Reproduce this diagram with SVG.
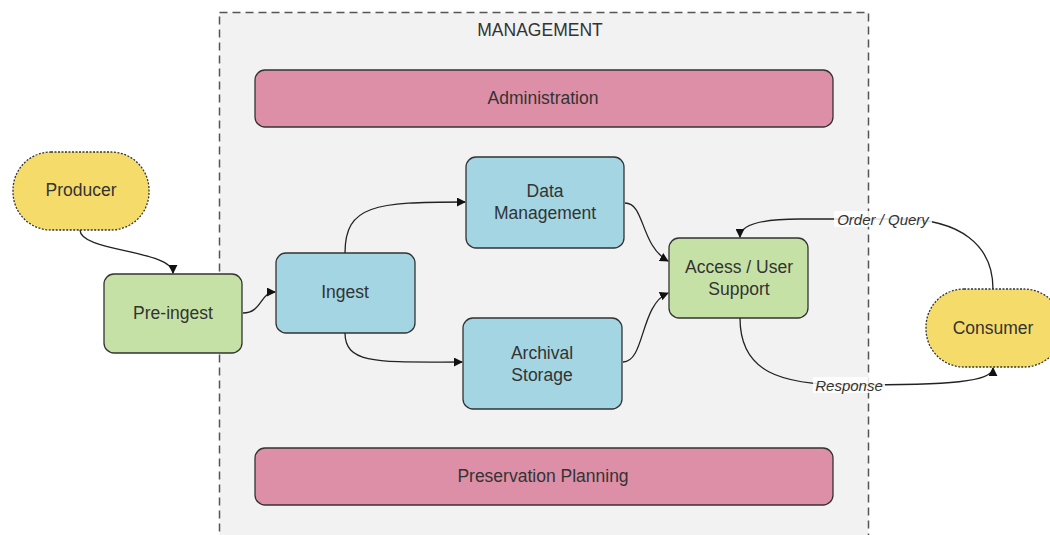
<svg xmlns="http://www.w3.org/2000/svg" width="1050" height="535" viewBox="0 0 1050 535">
<defs>
<marker id="arr" viewBox="0 0 10 10" refX="9" refY="5" markerWidth="9" markerHeight="9" markerUnits="userSpaceOnUse" orient="auto">
<path d="M0,0 L10,5 L0,10 Z" fill="#111"/>
</marker>
<style>
text{font-family:"Liberation Sans",Arial,sans-serif;font-size:17.5px;fill:#333;text-anchor:middle;dominant-baseline:central}
.node{stroke:#333;stroke-width:1.3}
.blue{fill:#a3d5e3}.green{fill:#c6e1a6}.pink{fill:#dd8fa7}.yellow{fill:#f5dc6a;stroke-dasharray:2 1.5}
.edge{fill:none;stroke:#222;stroke-width:1.3;marker-end:url(#arr)}
.lbl{font-style:italic;font-size:15px}
</style>
</defs>
<rect width="1050" height="535" fill="#fff"/>
<g id="management">
<rect x="219.5" y="12.5" width="649" height="540" fill="#f2f2f2" stroke="#555" stroke-width="1.5" stroke-dasharray="8 5"/>
<text x="540" y="30">MANAGEMENT</text>
</g>
<g id="administration"><rect class="node pink" x="255" y="70" width="578" height="57" rx="10"/><text x="543" y="98">Administration</text></g>
<g id="preservation"><rect class="node pink" x="255" y="448" width="578" height="57" rx="10"/><text x="543" y="476">Preservation Planning</text></g>
<g id="producer"><rect class="node yellow" x="13" y="152" width="136" height="78" rx="38"/><text x="81" y="190">Producer</text></g>
<g id="preingest"><rect class="node green" x="104" y="274" width="138" height="79" rx="10"/><text x="173" y="313">Pre-ingest</text></g>
<g id="ingest"><rect class="node blue" x="276" y="253" width="139" height="80" rx="10"/><text x="345" y="292">Ingest</text></g>
<g id="datamgmt"><rect class="node blue" x="466" y="157" width="158" height="91" rx="10"/><text x="545" y="191">Data</text><text x="545" y="213">Management</text></g>
<g id="archival"><rect class="node blue" x="463" y="318" width="159" height="91" rx="10"/><text x="542" y="353">Archival</text><text x="542" y="375">Storage</text></g>
<g id="access"><rect class="node green" x="669" y="238" width="139" height="80" rx="10"/><text x="739" y="267">Access / User</text><text x="739" y="289">Support</text></g>
<g id="consumer"><rect class="node yellow" x="926" y="289" width="136" height="78" rx="38"/><text x="993" y="328">Consumer</text></g>
<g id="connectors">
<path class="edge" d="M80,230 C80,252 173,250 173,273"/>
<path class="edge" d="M243,313 C262,313 260,292 275,292"/>
<path class="edge" d="M345,253 C345,205 375,202 465,202"/>
<path class="edge" d="M345,333 C345,365 380,362 462,362"/>
<path class="edge" d="M625,203 C645,203 640,245 668,261"/>
<path class="edge" d="M623,362 C645,362 640,305 668,293"/>
<path class="edge" d="M993,289 C993,245 960,219 900,219 L800,219 C760,219 740,225 740,237"/>
<path class="edge" d="M740,318 C740,372 780,385 850,385 C950,385 993,382 993,368"/>
<rect x="834" y="211" width="98" height="16" fill="#fff" opacity="0.85"/>
<text class="lbl" x="883" y="219">Order / Query</text>
<rect x="813" y="377" width="72" height="16" fill="#fff" opacity="0.85"/>
<text class="lbl" x="849" y="385">Response</text>
</g>
</svg>
